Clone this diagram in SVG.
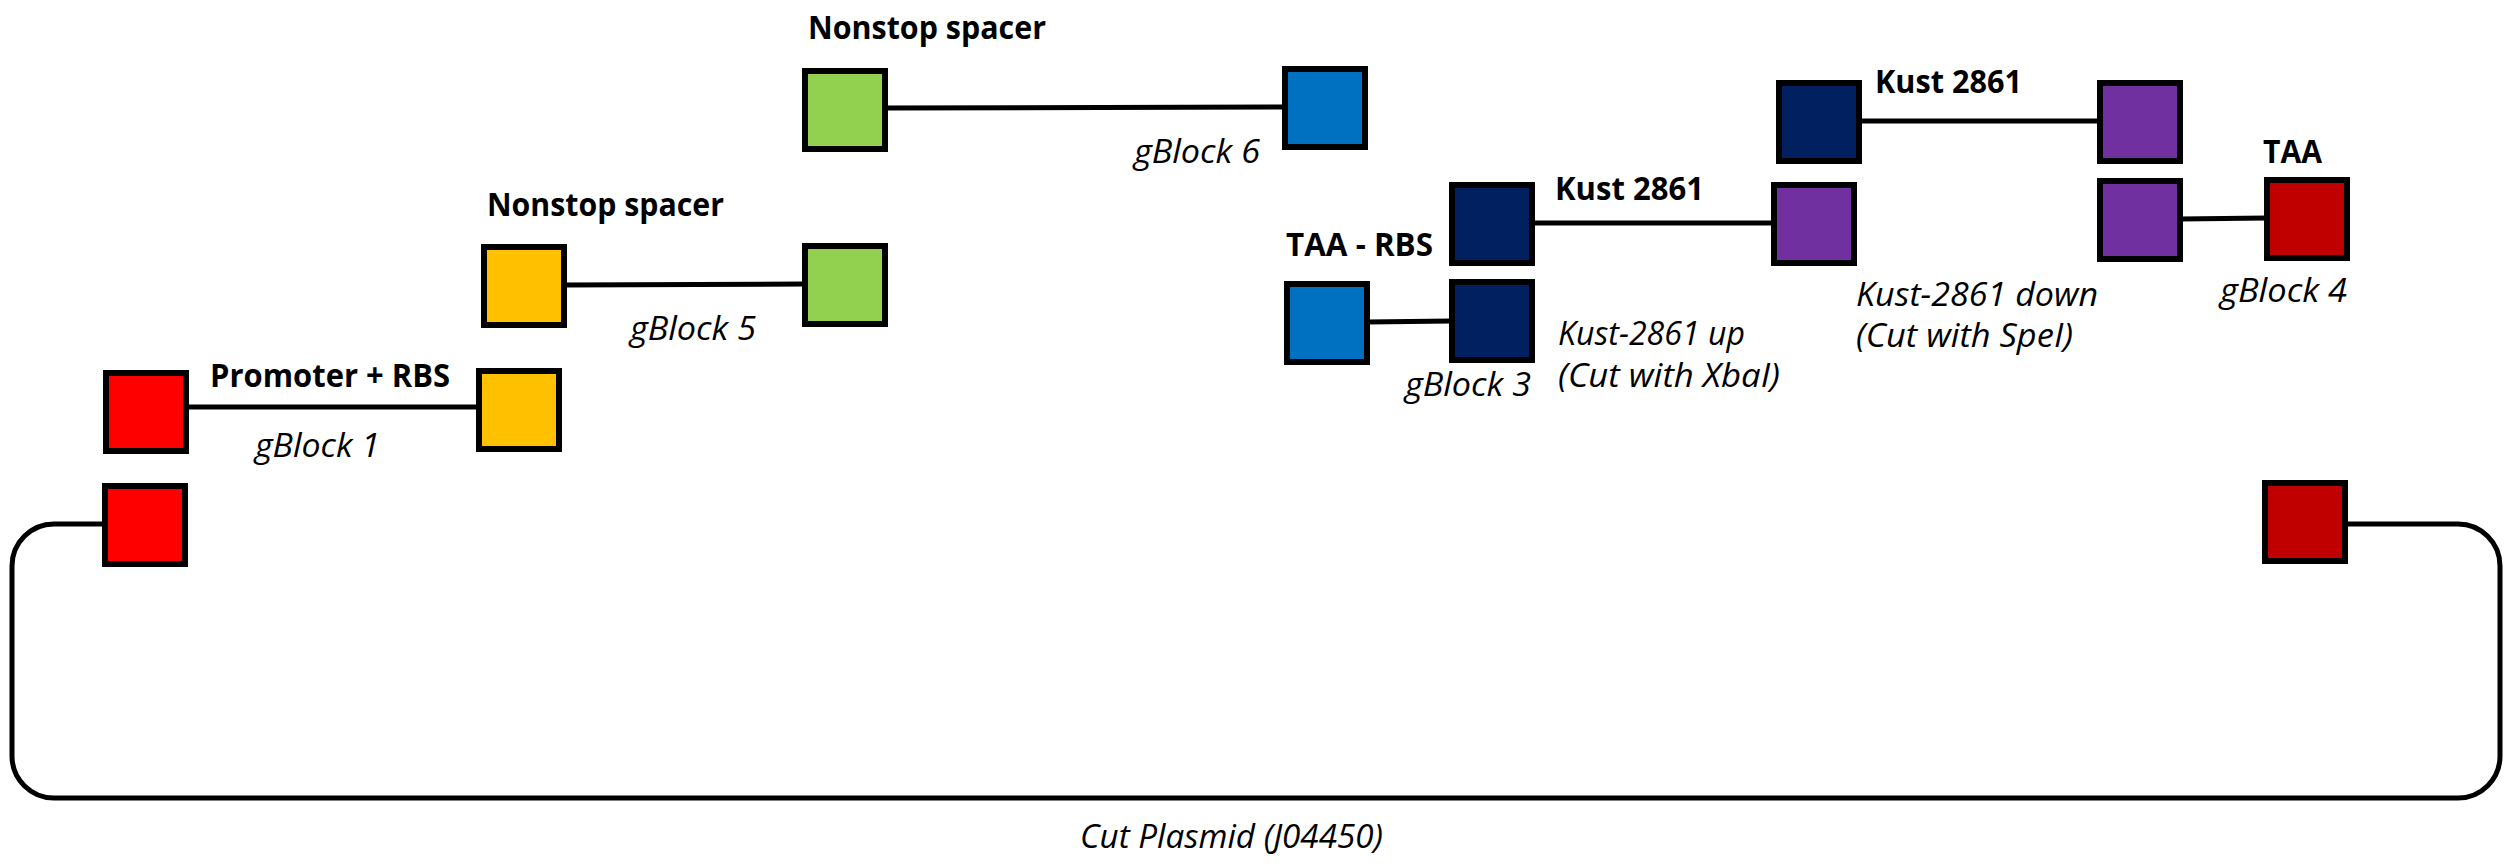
<svg xmlns="http://www.w3.org/2000/svg" width="2509" height="866" viewBox="0 0 2509 866">
<style>
.box{stroke:#000;stroke-width:6}
.red{fill:#FF0000}.yel{fill:#FFC000}.grn{fill:#92D050}.blu{fill:#0070C0}.nav{fill:#002060}.pur{fill:#7030A0}.drd{fill:#C00000}
.con{stroke:#000;stroke-width:5;fill:none}
.lb{font-family:"Open Sans","Noto Sans",sans-serif;font-weight:700;font-size:32px;fill:#000}
.li{font-family:"Open Sans","Noto Sans",sans-serif;font-style:italic;font-size:32px;fill:#000}
</style>
<rect width="2509" height="866" fill="#fff"/>
<g id="connectors">
<path class="con" d="M105 524 H54 A42 42 0 0 0 12 566 V756 A42 42 0 0 0 54 798 H2458 A42 42 0 0 0 2500 756 V566 A42 42 0 0 0 2458 524 H2345" stroke-width="6"/>
<line class="con" x1="186" y1="407" x2="479" y2="407"/>
<line class="con" x1="564" y1="285" x2="805" y2="284"/>
<line class="con" x1="885" y1="108" x2="1285" y2="107"/>
<line class="con" x1="1367" y1="322" x2="1452" y2="321"/>
<line class="con" x1="1532" y1="223" x2="1774" y2="223"/>
<line class="con" x1="1859" y1="121" x2="2100" y2="121"/>
<line class="con" x1="2180" y1="219" x2="2267" y2="218"/>
</g>
<g id="plasmid-left"><rect class="box red" x="105" y="486" width="80" height="78"/></g>
<g id="plasmid-right"><rect class="box drd" x="2265" y="483" width="80" height="78"/></g>
<g id="gblock1">
<rect class="box red" x="106" y="373" width="80" height="78"/>
<rect class="box yel" x="479" y="371" width="80" height="78"/>
<text class="lb" x="210" y="387" textLength="240" lengthAdjust="spacingAndGlyphs">Promoter + RBS</text>
<text class="li" x="255" y="457" textLength="125" lengthAdjust="spacingAndGlyphs">gBlock 1</text>
</g>
<g id="gblock5">
<rect class="box yel" x="484" y="247" width="80" height="78"/>
<rect class="box grn" x="805" y="246" width="80" height="78"/>
<text class="lb" x="487" y="216" textLength="237" lengthAdjust="spacingAndGlyphs">Nonstop spacer</text>
<text class="li" x="630" y="340" textLength="126" lengthAdjust="spacingAndGlyphs">gBlock 5</text>
</g>
<g id="gblock6">
<rect class="box grn" x="805" y="71" width="80" height="78"/>
<rect class="box blu" x="1285" y="69" width="80" height="78"/>
<text class="lb" x="808" y="39" textLength="238" lengthAdjust="spacingAndGlyphs">Nonstop spacer</text>
<text class="li" x="1134" y="163" textLength="126" lengthAdjust="spacingAndGlyphs">gBlock 6</text>
</g>
<g id="gblock3">
<rect class="box blu" x="1287" y="284" width="80" height="78"/>
<rect class="box nav" x="1452" y="282" width="80" height="78"/>
<text class="lb" x="1286" y="256" textLength="147" lengthAdjust="spacingAndGlyphs">TAA - RBS</text>
<text class="li" x="1405" y="396" textLength="126" lengthAdjust="spacingAndGlyphs">gBlock 3</text>
</g>
<g id="kust-up">
<rect class="box nav" x="1452" y="185" width="80" height="78"/>
<rect class="box pur" x="1774" y="185" width="80" height="78"/>
<text class="lb" x="1555" y="200" textLength="149" lengthAdjust="spacingAndGlyphs">Kust 2861</text>
<text class="li" x="1558" y="345" textLength="187" lengthAdjust="spacingAndGlyphs">Kust-2861 up</text>
<text class="li" x="1558" y="387" textLength="222" lengthAdjust="spacingAndGlyphs">(Cut with XbaI)</text>
</g>
<g id="kust-down">
<rect class="box nav" x="1779" y="83" width="80" height="78"/>
<rect class="box pur" x="2100" y="83" width="80" height="78"/>
<text class="lb" x="1875" y="93" textLength="147" lengthAdjust="spacingAndGlyphs">Kust 2861</text>
<text class="li" x="1856" y="306" textLength="242" lengthAdjust="spacingAndGlyphs">Kust-2861 down</text>
<text class="li" x="1856" y="347" textLength="217" lengthAdjust="spacingAndGlyphs">(Cut with SpeI)</text>
</g>
<g id="gblock4">
<rect class="box pur" x="2100" y="181" width="80" height="78"/>
<rect class="box drd" x="2267" y="180" width="80" height="78"/>
<text class="lb" x="2263" y="163" textLength="59" lengthAdjust="spacingAndGlyphs">TAA</text>
<text class="li" x="2220" y="302" textLength="127" lengthAdjust="spacingAndGlyphs">gBlock 4</text>
</g>
<g id="plasmid-label">
<text class="li" x="1080" y="848" textLength="303" lengthAdjust="spacingAndGlyphs">Cut Plasmid (J04450)</text>
</g>
</svg>
